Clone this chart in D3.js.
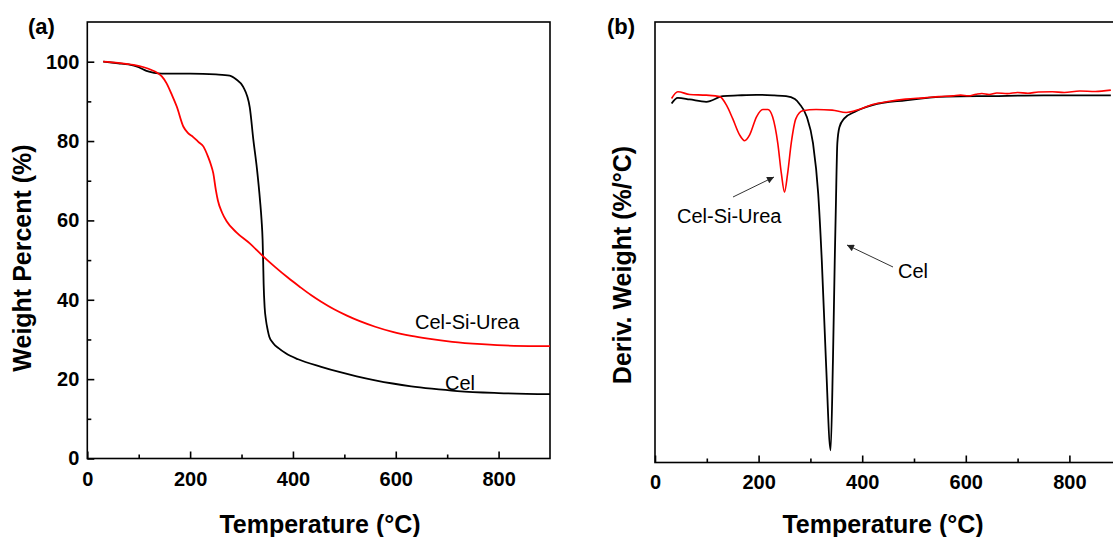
<!DOCTYPE html>
<html>
<head>
<meta charset="utf-8">
<script src="https://cdn.jsdelivr.net/npm/d3@7"></script>
<style>
  html, body { margin: 0; padding: 0; background: #fff; }
  svg { display: block; }
  text { font-family: "Liberation Sans", Arial, sans-serif; fill: #000; }
</style>
</head>
<body>
<svg id="chart" width="1113" height="537"></svg>
<script>
// ---------- Data: panel (a) TGA ----------
const tgaCelTemp = [31, 60, 80, 100, 115, 130, 145, 200, 250, 277, 290, 303, 316, 323, 330, 336, 339, 341, 342, 343, 345, 347.5, 351, 354, 362, 372, 386, 410, 455, 490, 524, 560, 594, 630, 670, 720, 800, 900];
const tgaCelWeight = [100, 99.6, 99.3, 98.6, 97.7, 97.2, 97.0, 97.0, 96.8, 96.5, 95.5, 93.7, 88.5, 80.3, 73, 65, 60, 55, 50, 44, 38, 34.9, 32.3, 30.7, 29.0, 27.8, 26.5, 25.0, 23.1, 21.8, 20.7, 19.7, 18.9, 18.2, 17.6, 17.0, 16.5, 16.2];

const tgaUreaTemp = [31, 60, 90, 110, 125, 135, 145, 154, 164, 174, 187, 196, 206, 216, 226, 235, 240, 245, 250, 254, 262, 271, 290, 316, 340, 365, 390, 413, 435, 455, 480, 505, 530, 560, 594, 630, 663, 710, 767, 830, 900];
const tgaUreaWeight = [100, 99.7, 99.2, 98.6, 97.9, 97.3, 96.3, 94.6, 91.8, 88.7, 83.6, 82.0, 81.0, 79.8, 78.6, 76.0, 74.2, 71.9, 67.7, 65.0, 62.0, 59.8, 57.0, 54.2, 51.2, 48.3, 45.6, 43.3, 41.2, 39.5, 37.6, 36.0, 34.6, 33.2, 31.9, 30.9, 30.2, 29.4, 28.8, 28.4, 28.3];

// ---------- Data: panel (b) DTG (%/°C) ----------
const dtgCelTemp = [32, 44, 67, 99, 131, 160, 196, 230, 253, 270, 279, 293, 305, 315, 322, 330, 339, 343.5, 347, 349, 352, 356, 365, 388, 420, 484, 563, 650, 750, 880];
const dtgCelValue = [-0.066, -0.02, -0.033, -0.052, -0.006, 0.0, 0.005, 0.0, -0.006, -0.03, -0.07, -0.175, -0.39, -0.8, -1.35, -2.17, -2.9, -2.17, -1.35, -0.94, -0.39, -0.26, -0.19, -0.13, -0.08, -0.04, -0.01, -0.005, 0.0, 0.0];

const dtgUreaTemp = [32, 44, 67, 99, 125, 138, 150, 163, 173, 183, 196, 208, 218, 227, 237, 244, 250, 256, 263, 272, 285, 311, 342, 369, 394, 420, 450, 484, 520, 548, 575, 590, 605, 620, 631, 645, 660, 680, 700, 720, 740, 767, 790, 820, 850, 880];
const dtgUreaValue = [-0.025, 0.03, 0.008, 0.002, -0.01, -0.08, -0.19, -0.32, -0.37, -0.32, -0.175, -0.115, -0.115, -0.175, -0.39, -0.64, -0.79, -0.64, -0.39, -0.19, -0.126, -0.115, -0.12, -0.14, -0.115, -0.075, -0.05, -0.03, -0.02, -0.01, -0.004, 0.002, -0.003, 0.01, 0.016, 0.008, 0.02, 0.015, 0.024, 0.018, 0.028, 0.03, 0.024, 0.036, 0.032, 0.043];

// ---------- Ticks ----------
const xMajorTicks = [0, 200, 400, 600, 800];
const xMinorTicks = [100, 300, 500, 700];
const yMajorTicksA = [0, 20, 40, 60, 80, 100];
const yMinorTicksA = [10, 30, 50, 70, 90];

const svg = d3.select("#chart");

function series(t, v) { return t.map((d, i) => [d, v[i]]); }

// ================= Panel (a) =================
const xA = d3.scaleLinear().domain([0, 900]).range([87.3, 550]);
const yA = d3.scaleLinear().domain([0, 110]).range([458.5, 22]);

const gA = svg.append("g");

gA.append("rect")
  .attr("x", xA(0)).attr("y", yA(110))
  .attr("width", xA(900) - xA(0)).attr("height", yA(0) - yA(110))
  .attr("fill", "none").attr("stroke", "#000").attr("stroke-width", 1.6);

function styleAxis(g, size) {
  g.select(".domain").remove();
  g.selectAll(".tick line").attr("stroke", "#000").attr("stroke-width", 1.6);
  g.selectAll(".tick text").attr("font-size", size).attr("font-weight", "bold")
    .attr("font-family", "'Liberation Sans', Arial, sans-serif").attr("fill", "#000");
}

gA.append("g").attr("transform", `translate(0,${yA(0)})`)
  .call(d3.axisBottom(xA).tickValues(xMajorTicks).tickSize(-7).tickSizeOuter(0).tickPadding(13.5).tickFormat(d3.format("d")))
  .call(g => styleAxis(g, 20));
gA.append("g").attr("transform", `translate(0,${yA(0)})`)
  .call(d3.axisBottom(xA).tickValues(xMinorTicks).tickSize(-4).tickSizeOuter(0).tickFormat(""))
  .call(g => styleAxis(g, 20));
gA.append("g").attr("transform", `translate(${xA(0)},0)`)
  .call(d3.axisLeft(yA).tickValues(yMajorTicksA).tickSize(-7).tickSizeOuter(0).tickPadding(8).tickFormat(d3.format("d")))
  .call(g => styleAxis(g, 20));
gA.append("g").attr("transform", `translate(${xA(0)},0)`)
  .call(d3.axisLeft(yA).tickValues(yMinorTicksA).tickSize(-4).tickSizeOuter(0).tickFormat(""))
  .call(g => styleAxis(g, 20));

const lineA = d3.line().x(d => xA(d[0])).y(d => yA(d[1])).curve(d3.curveMonotoneX);
gA.append("path").datum(series(tgaCelTemp, tgaCelWeight))
  .attr("d", lineA).attr("fill", "none").attr("stroke", "#000").attr("stroke-width", 1.8);
gA.append("path").datum(series(tgaUreaTemp, tgaUreaWeight))
  .attr("d", lineA).attr("fill", "none").attr("stroke", "#ff0000").attr("stroke-width", 1.8);

gA.append("text").attr("x", 415).attr("y", 329).attr("font-size", 20).text("Cel-Si-Urea");
gA.append("text").attr("x", 445).attr("y", 390).attr("font-size", 20).text("Cel");

gA.append("text").attr("x", 320).attr("y", 533).attr("text-anchor", "middle")
  .attr("font-size", 25).attr("font-weight", "bold").text("Temperature (°C)");
gA.append("text").attr("transform", "translate(30.5,258) rotate(-90)").attr("text-anchor", "middle")
  .attr("font-size", 25).attr("font-weight", "bold").text("Weight Percent (%)");
gA.append("text").attr("x", 28).attr("y", 34).attr("font-size", 22).attr("font-weight", "bold").text("(a)");

// ================= Panel (b) =================
const xB = d3.scaleLinear().domain([0, 900]).range([655, 655 + 0.518 * 900]);
const yB = d3.scaleLinear().domain([-3.0, 0.6]).range([462.5, 22]);

const gB = svg.append("g");
gB.append("rect")
  .attr("x", xB(0)).attr("y", yB(0.6))
  .attr("width", xB(900) - xB(0)).attr("height", yB(-3.0) - yB(0.6))
  .attr("fill", "none").attr("stroke", "#000").attr("stroke-width", 1.6);

gB.append("g").attr("transform", `translate(0,${yB(-3.0)})`)
  .call(d3.axisBottom(xB).tickValues(xMajorTicks).tickSize(-7).tickSizeOuter(0).tickPadding(12.5).tickFormat(d3.format("d")))
  .call(g => styleAxis(g, 20));
gB.append("g").attr("transform", `translate(0,${yB(-3.0)})`)
  .call(d3.axisBottom(xB).tickValues(xMinorTicks).tickSize(-4).tickSizeOuter(0).tickFormat(""))
  .call(g => styleAxis(g, 20));

const lineB = d3.line().x(d => xB(d[0])).y(d => yB(d[1])).curve(d3.curveMonotoneX);
gB.append("path").datum(series(dtgCelTemp, dtgCelValue))
  .attr("d", lineB).attr("fill", "none").attr("stroke", "#000").attr("stroke-width", 1.8);
gB.append("path").datum(series(dtgUreaTemp, dtgUreaValue))
  .attr("d", lineB).attr("fill", "none").attr("stroke", "#ff0000").attr("stroke-width", 1.6);

const defs = svg.append("defs");
defs.append("marker").attr("id", "arrow").attr("viewBox", "0 0 10 10")
  .attr("refX", 10).attr("refY", 5).attr("markerWidth", 9).attr("markerHeight", 7)
  .attr("markerUnits", "userSpaceOnUse").attr("orient", "auto")
  .append("path").attr("d", "M0,0 L10,5 L0,10 z").attr("fill", "#222");

gB.append("line").attr("x1", 733).attr("y1", 197).attr("x2", 774).attr("y2", 177)
  .attr("stroke", "#333").attr("stroke-width", 1).attr("marker-end", "url(#arrow)");
gB.append("line").attr("x1", 893).attr("y1", 267).attr("x2", 847).attr("y2", 245)
  .attr("stroke", "#333").attr("stroke-width", 1).attr("marker-end", "url(#arrow)");

gB.append("text").attr("x", 677).attr("y", 223).attr("font-size", 20).text("Cel-Si-Urea");
gB.append("text").attr("x", 898).attr("y", 278).attr("font-size", 20).text("Cel");

gB.append("text").attr("x", 883).attr("y", 533).attr("text-anchor", "middle")
  .attr("font-size", 25).attr("font-weight", "bold").text("Temperature (°C)");
gB.append("text").attr("transform", "translate(631,265) rotate(-90)").attr("text-anchor", "middle")
  .attr("font-size", 25).attr("font-weight", "bold").text("Deriv. Weight (%/°C)");
gB.append("text").attr("x", 607).attr("y", 34).attr("font-size", 22).attr("font-weight", "bold").text("(b)");
</script>
</body>
</html>
